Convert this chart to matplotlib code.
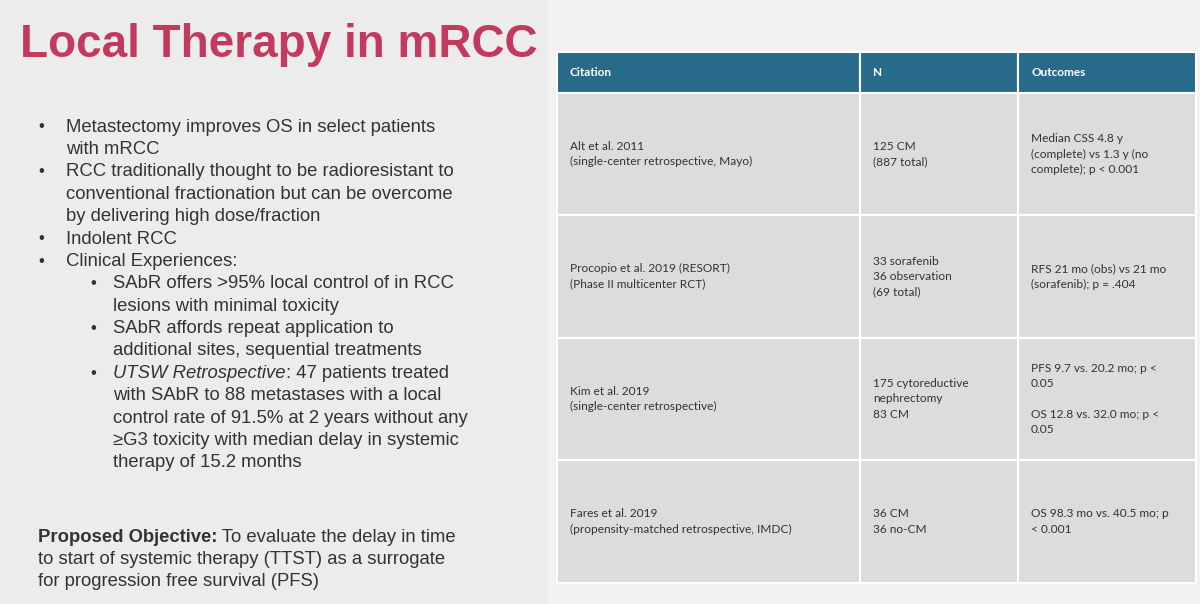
import matplotlib.pyplot as plt
from matplotlib.patches import Rectangle

title = 'Local Therapy in mRCC'

# bullet text: (indent level, italic prefix, text lines)
bullets = [
    (0, '', ['Metastectomy improves OS in select patients', 'with mRCC']),
    (0, '', ['RCC traditionally thought to be radioresistant to',
             'conventional fractionation but can be overcome',
             'by delivering high dose/fraction']),
    (0, '', ['Indolent RCC']),
    (0, '', ['Clinical Experiences:']),
    (1, '', ['SAbR offers >95% local control of in RCC', 'lesions with minimal toxicity']),
    (1, '', ['SAbR affords repeat application to', 'additional sites, sequential treatments']),
    (1, 'UTSW Retrospective', [': 47 patients treated',
                               'with SAbR to 88 metastases with a local',
                               'control rate of 91.5% at 2 years without any',
                               '≥G3 toxicity with median delay in systemic',
                               'therapy of 15.2 months']),
]
objective_head = 'Proposed Objective:'
objective_lines = [' To evaluate the delay in time',
                   'to start of systemic therapy (TTST) as a surrogate',
                   'for progression free survival (PFS)']

headers = ['Citation', 'N', 'Outcomes']
citations = ['Alt et al. 2011\n(single-center retrospective, Mayo)',
             'Procopio et al. 2019 (RESORT)\n(Phase II multicenter RCT)',
             'Kim et al. 2019\n(single-center retrospective)',
             'Fares et al. 2019\n(propensity-matched retrospective, IMDC)']
n_values = ['125 CM\n(887 total)',
            '33 sorafenib\n36 observation\n(69 total)',
            '175 cytoreductive\nnephrectomy\n83 CM',
            '36 CM\n36 no-CM']
outcomes = ['Median CSS 4.8 y\n(complete) vs 1.3 y (no\ncomplete); p < 0.001',
            'RFS 21 mo (obs) vs 21 mo\n(sorafenib); p = .404',
            'PFS 9.7 vs. 20.2 mo; p <\n0.05\n\nOS 12.8 vs. 32.0 mo; p <\n0.05',
            'OS 98.3 mo vs. 40.5 mo; p\n< 0.001']

body_font = 'Liberation Sans'
table_font = 'Lato'
txt_color = '#333333'

fig = plt.figure(figsize=(12, 6.04), dpi=100)
fig.patch.set_facecolor('#ececec')
ax = fig.add_axes([0, 0, 1, 1])
ax.set_xlim(0, 1200)
ax.set_ylim(604, 0)
ax.axis('off')
ax.add_patch(Rectangle((548, 0), 652, 604, color='#f2f2f2', zorder=0))

ax.text(20, 45, title, fontsize=33, fontweight='bold', color='#c23b5e',
        va='center', family=body_font)


def right_edge(t):
    fig.canvas.draw()
    return ax.transData.inverted().transform((t.get_window_extent().x1, 0))[0]


# bullets
y = 127
lh = 22.4
for lvl, ital, lines in bullets:
    xb = 38 if lvl == 0 else 90
    xt = 66 if lvl == 0 else 113
    ax.text(xb, y, '•', fontsize=12, color=txt_color, va='center', family=body_font)
    for i, ln in enumerate(lines):
        x = xt
        if i == 0 and ital:
            t = ax.text(xt, y, ital, fontsize=13.3, style='italic', color=txt_color,
                        va='center', family=body_font)
            x = right_edge(t)
        ax.text(x, y, ln, fontsize=13.3, color=txt_color, va='center', family=body_font)
        y += lh

y = 537
t = ax.text(38, y, objective_head, fontsize=13.3, fontweight='bold', color=txt_color,
            va='center', family=body_font)
ax.text(right_edge(t), y, objective_lines[0], fontsize=13.3, color=txt_color,
        va='center', family=body_font)
for i, ln in enumerate(objective_lines[1:]):
    ax.text(38, y + lh * (i + 1), ln, fontsize=13.3, color=txt_color,
            va='center', family=body_font)

# table
cols = [557, 860, 1018, 1196]
rows = [52, 93, 215, 338, 460, 583]
for j in range(3):
    ax.add_patch(Rectangle((cols[j], rows[0]), cols[j + 1] - cols[j], rows[1] - rows[0],
                           facecolor='#276a8a', edgecolor='white', lw=1.5))
    ax.text(cols[j] + 13, (rows[0] + rows[1]) / 2, headers[j], fontsize=8.5,
            fontweight='bold', color='white', va='center', family=table_font)
for i in range(4):
    for j, col in enumerate([citations, n_values, outcomes]):
        ax.add_patch(Rectangle((cols[j], rows[i + 1]), cols[j + 1] - cols[j],
                               rows[i + 2] - rows[i + 1],
                               facecolor='#dcdcdc', edgecolor='white', lw=1.5))
        ax.text(cols[j] + 13, (rows[i + 1] + rows[i + 2]) / 2, col[i], fontsize=8.6,
                color=txt_color, va='center', linespacing=1.45, family=table_font)

fig.savefig('out.png', dpi=100)
